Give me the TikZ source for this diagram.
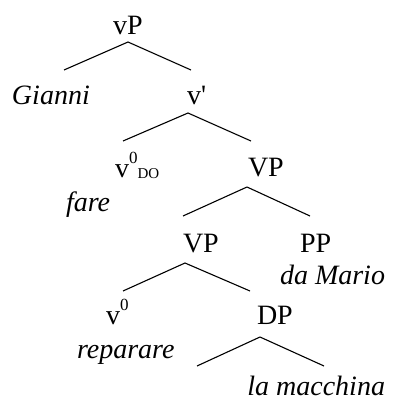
\documentclass[tikz,border=0pt]{standalone}
\usepackage{fontspec}
\setmainfont{Liberation Serif}
\begin{document}
\begin{tikzpicture}[x=1pt,y=-1pt,
  lbl/.style={inner sep=0pt,outer sep=0pt,font=\fontsize{28}{32}\selectfont},
  word/.style={lbl,font=\fontsize{28}{32}\selectfont\itshape},
  branch/.style={line width=1.1pt,line join=round}]
\useasboundingbox (0,0) rectangle (394,401);
% labels
\node[lbl,anchor=base] (vP) at (128,35) {vP};
\node[word,anchor=base west] (gianni) at (12,105) {Gianni};
\node[lbl,anchor=base west] (vbar) at (187,104) {v\textquotesingle};
\node[lbl,anchor=base west] (vdo) at (115,177) {v\raisebox{14pt}{\fontsize{17}{17}\selectfont 0}\raisebox{-1pt}{\fontsize{15}{15}\selectfont DO}};
\node[word,anchor=base west] (fare) at (66,211) {fare};
\node[lbl,anchor=base west] (VP1) at (248,176) {VP};
\node[lbl,anchor=base west] (VP2) at (183,252) {VP};
\node[lbl,anchor=base west] (PP) at (300,252) {PP};
\node[word,anchor=base east] (mario) at (385,284) {da Mario};
\node[lbl,anchor=base west] (v0) at (106,324) {v\raisebox{14pt}{\fontsize{17}{17}\selectfont 0}};
\node[word,anchor=base west] (rip) at (77,358) {reparare};
\node[lbl,anchor=base west] (DP) at (257,324) {DP};
\node[word,anchor=base east] (mac) at (385,395) {la macchina};
% branch points
\coordinate (a1) at (128,42);  \coordinate (l1) at (64,70);  \coordinate (r1) at (191,70);
\coordinate (a2) at (188,113); \coordinate (l2) at (123,141); \coordinate (r2) at (251,141);
\coordinate (a3) at (247,187); \coordinate (l3) at (183,216); \coordinate (r3) at (310,216);
\coordinate (a4) at (185,263); \coordinate (l4) at (123,291); \coordinate (r4) at (250,291);
\coordinate (a5) at (260,337); \coordinate (l5) at (197,366); \coordinate (r5) at (324,366);
\draw[branch] (l1) -- (a1) -- (r1);
\draw[branch] (l2) -- (a2) -- (r2);
\draw[branch] (l3) -- (a3) -- (r3);
\draw[branch] (l4) -- (a4) -- (r4);
\draw[branch] (l5) -- (a5) -- (r5);
\end{tikzpicture}
\end{document}
